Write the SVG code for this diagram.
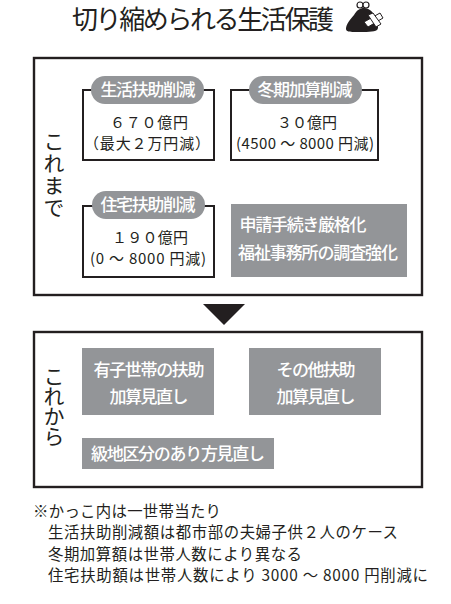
<svg xmlns="http://www.w3.org/2000/svg" width="451" height="604" viewBox="0 0 451 604">
<style>
text{font-family:"Noto Sans CJK JP","Noto Sans",sans-serif;fill:#231f20}
.frame{fill:#fff;stroke:#231f20;stroke-width:2.4}
.sub{fill:#fff;stroke:#231f20;stroke-width:2}
.gray{fill:#939598}
.w{fill:#fff;font-size:17px;font-weight:500;text-anchor:middle}
.b{font-size:15px;text-anchor:middle}
.v{font-size:21px;writing-mode:vertical-rl}
.n{font-size:15.4px}
</style>
<rect width="451" height="604" fill="#fff"/>
<g id="title">
<text x="72" y="29" font-size="26" textLength="262" lengthAdjust="spacing">切り縮められる生活保護</text>
<g id="purse">
<circle cx="360" cy="5" r="3" fill="#fff" stroke="#231f20" stroke-width="1.2"/>
<circle cx="366" cy="5" r="3" fill="#fff" stroke="#231f20" stroke-width="1.2"/>
<path d="M346 29C346 24 350 20 354 15C357 10 360 8 364 8C370 8 374 13 376 19C378 24 379 28 377 30C374 32 366 32 357 32C351 32 346 32 346 29Z" fill="#231f20"/>
<path d="M364 22L380 13L383 18L368 27Z" fill="#fff" stroke="#231f20" stroke-width="1"/>
<path d="M368 15L373 13L381 24L376 27Z" fill="#fff" stroke="#231f20" stroke-width="1"/>
</g>
</g>
<g id="before">
<rect class="frame" x="34" y="58" width="388" height="237"/>
<text class="v" x="54" y="131" letter-spacing="1">これまで</text>
</g>
<g id="seikatsu">
<rect class="sub" x="83" y="90" width="131" height="70"/>
<rect class="gray" x="91" y="76" width="113" height="28" rx="14"/>
<text class="w" x="148" y="96" textLength="95">生活扶助削減</text>
<text class="b" x="149" y="128" textLength="78">６７０億円</text>
<text class="b" x="147" y="149" textLength="126">（最大２万円減）</text>
</g>
<g id="toki">
<rect class="sub" x="231" y="90" width="147" height="70"/>
<rect class="gray" x="249" y="76" width="113" height="28" rx="14"/>
<text class="w" x="305" y="96" textLength="95">冬期加算削減</text>
<text class="b" x="307" y="128" textLength="60">３０億円</text>
<text class="b" x="305" y="149" textLength="138">(4500 ～ 8000 円減)</text>
</g>
<g id="jutaku">
<rect class="sub" x="83" y="206" width="131" height="71"/>
<rect class="gray" x="92" y="191" width="113" height="28" rx="14"/>
<text class="w" x="148" y="211" textLength="95">住宅扶助削減</text>
<text class="b" x="150" y="243" textLength="76">１９０億円</text>
<text class="b" x="148" y="264" textLength="116">(0 ～ 8000 円減)</text>
</g>
<g id="shinsei">
<rect class="gray" x="231" y="204" width="176" height="73"/>
<text class="w" x="303" y="231" textLength="127">申請手続き厳格化</text>
<text class="w" x="318" y="259" textLength="160">福祉事務所の調査強化</text>
</g>
<g id="connectors">
<path d="M203 304H245L224 325Z" fill="#231f20"/>
</g>
<g id="after">
<rect class="frame" x="34" y="332" width="388" height="155"/>
<text class="v" x="54" y="366" letter-spacing="-1">これから</text>
</g>
<g id="yushi">
<rect class="gray" x="82" y="348" width="132" height="67"/>
<text class="w" x="149" y="376" textLength="111">有子世帯の扶助</text>
<text class="w" x="149" y="403" textLength="79">加算見直し</text>
</g>
<g id="sonota">
<rect class="gray" x="249" y="348" width="132" height="67"/>
<text class="w" x="316" y="376" textLength="79">その他扶助</text>
<text class="w" x="316" y="403" textLength="79">加算見直し</text>
</g>
<g id="kyuchi">
<rect class="gray" x="82" y="438" width="192" height="31"/>
<text class="w" x="178" y="460" textLength="174">級地区分のあり方見直し</text>
</g>
<g id="notes">
<text class="n" x="33" y="517" textLength="188">※かっこ内は一世帯当たり</text>
<text class="n" x="48" y="538" textLength="350">生活扶助削減額は都市部の夫婦子供２人のケース</text>
<text class="n" x="48" y="560" textLength="254">冬期加算額は世帯人数により異なる</text>
<text class="n" x="48" y="581" textLength="380">住宅扶助額は世帯人数により 3000 ～ 8000 円削減に</text>
</g>
</svg>
